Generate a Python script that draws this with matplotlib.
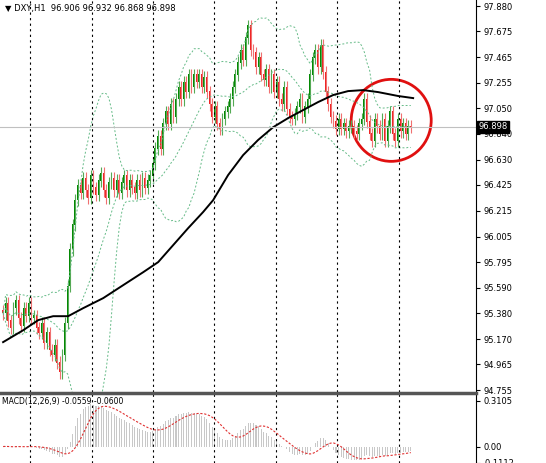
import numpy as np
import pandas as pd
import matplotlib
matplotlib.use("Agg")
import matplotlib.pyplot as plt
from matplotlib.patches import Ellipse

# hourly closes
closes = [95.38, 95.46, 95.32, 95.26, 95.42, 95.48, 95.34, 95.28, 95.42, 95.36, 95.46, 95.34,
          95.36, 95.26, 95.22, 95.30, 95.14, 95.22, 95.08, 95.04, 95.12, 94.98,
          94.90, 95.04, 95.30,
          95.60, 95.90, 96.10, 96.30, 96.42,
          96.36, 96.48, 96.38, 96.32, 96.50, 96.40, 96.34, 96.46, 96.52, 96.38, 96.32, 96.44, 96.48, 96.38,
          96.46, 96.36, 96.44, 96.50, 96.38, 96.46, 96.40, 96.36, 96.46, 96.38, 96.48, 96.40, 96.46, 96.50,
          96.60, 96.72, 96.82, 96.72, 96.92, 97.02, 96.92,
          97.08, 96.98, 97.12, 97.22, 97.12, 97.26, 97.18, 97.32, 97.22, 97.32, 97.26, 97.32, 97.22,
          97.30, 97.18, 97.08, 96.98, 97.06, 96.92, 96.88, 96.96, 97.02, 97.06, 97.12, 97.22, 97.32,
          97.42, 97.52, 97.44, 97.62, 97.72, 97.52, 97.50, 97.38,
          97.46, 97.32, 97.28, 97.36, 97.22, 97.32, 97.18, 97.26, 97.12, 97.08, 97.22, 97.04, 96.98, 96.96,
          97.00, 97.06, 97.12, 96.98, 97.06, 97.12,
          97.32, 97.46, 97.52, 97.38, 97.56, 97.34, 97.18, 97.08,
          96.98, 96.94, 96.88, 96.96, 96.88, 96.92, 96.86, 96.90,
          96.90, 96.86, 96.84, 96.92, 96.96, 97.12, 96.94, 96.84, 96.78, 96.96, 96.90, 96.84,
          96.96, 96.78, 96.90, 97.02, 96.84, 96.78, 96.96, 96.86, 96.92, 96.84, 96.90, 96.898]
first_open = 95.40
wick = 0.05

# long moving average (black) read at sample points
ma_idx = [0, 7.8, 13.6, 19.4, 25.2, 31, 38.8, 46.5, 54.3, 60.1, 65.9, 71.7, 77.5, 81.4,
          87.2, 93, 98.8, 104.7, 110.5, 116.3, 122.1, 127.9, 133.7, 139.5, 145.3, 153.1, 158.9]
ma_val = [95.146, 95.243, 95.325, 95.357, 95.357, 95.422, 95.504, 95.609, 95.715, 95.797,
          95.935, 96.073, 96.204, 96.301, 96.505, 96.667, 96.790, 96.895, 96.969, 97.034,
          97.099, 97.156, 97.188, 97.196, 97.180, 97.148, 97.131]

price_ticks = [97.880, 97.675, 97.465, 97.255, 97.050, 96.840, 96.630, 96.425, 96.215,
               96.005, 95.795, 95.590, 95.380, 95.170, 94.965, 94.755]
macd_ticks = [0.3105, 0.00, -0.1112]

c = pd.Series(closes)
o = c.shift(1).fillna(first_open)
hi = np.maximum(o, c) + wick
lo = np.minimum(o, c) - wick
x = np.arange(len(c))

mid = c.rolling(20, min_periods=1).mean()
sd = c.rolling(20, min_periods=1).std().fillna(0)
macd = c.ewm(span=12).mean() - c.ewm(span=26).mean()
signal = macd.rolling(9, min_periods=1).mean()

fig = plt.figure(figsize=(5.46, 4.63), dpi=100)
ax = fig.add_axes([0, 0.153, 0.872, 0.847])
ax2 = fig.add_axes([0, 0, 0.872, 0.149])

up = c >= o
cols = np.where(up, "#008800", "#ee2222")
ax.vlines(x, lo, hi, colors=np.where(up, "#55aa55", "#f07070"), lw=0.8)
ax.bar(x, np.abs(c - o) + 0.005, bottom=np.minimum(o, c), width=0.7, color=cols)

for band in (mid, mid + 2 * sd, mid - 2 * sd):
    ax.plot(x, band, ls=(0, (2, 2)), color="#66bb88", lw=0.7)
ax.plot(ma_idx, ma_val, color="black", lw=1.4)
ax.axhline(closes[-1], color="#c0c0c0", lw=0.8)

ax.add_patch(Ellipse((150.4, 96.95), 31, 0.667, fill=False, ec="#e01010", lw=2))

xlim = (-1.2, 183.3)
grid_x = [10.5 + 23.8 * k for k in range(7)]
for a in (ax, ax2):
    a.set_xlim(*xlim)
    for g in grid_x:
        a.axvline(g, color="black", ls=(0, (2, 3)), lw=0.8)
    a.set_xticks([])
    a.yaxis.tick_right()
    a.tick_params(axis="y", labelsize=6, length=3, pad=2)
    for s in ("top", "left", "bottom"):
        a.spines[s].set_visible(False)

ax.set_ylim(94.739, 97.929)
ax.set_yticks(price_ticks)
ax.set_yticklabels([f"{t:.3f}" for t in price_ticks])
ax.text(1.005, closes[-1], f"{closes[-1]:.3f}", transform=ax.get_yaxis_transform(),
        fontsize=6, color="white", va="center", bbox=dict(fc="black", ec="black", pad=1))
ax.text(0.01, 0.99, "\u25bc DXY,H1  96.906 96.932 96.868 96.898", transform=ax.transAxes,
        fontsize=6, va="top", family=["DejaVu Sans"])

ax2.bar(x, macd, width=0.4, color="#c8c8c8")
ax2.plot(x, signal, color="#e03030", ls=(0, (2, 1.5)), lw=0.8)
ax2.set_ylim(-0.112, 0.357)
ax2.set_yticks(macd_ticks)
ax2.set_yticklabels(["0.3105", "0.00", "-0.1112"])
ax2.text(0.005, 0.96, "MACD(12,26,9) -0.0559 -0.0600", transform=ax2.transAxes,
         fontsize=5.5, va="top")

fig.add_artist(plt.Line2D([0, 0.872], [0.151, 0.151], color="#555555", lw=2.5))
fig.savefig("out.png", dpi=100)
